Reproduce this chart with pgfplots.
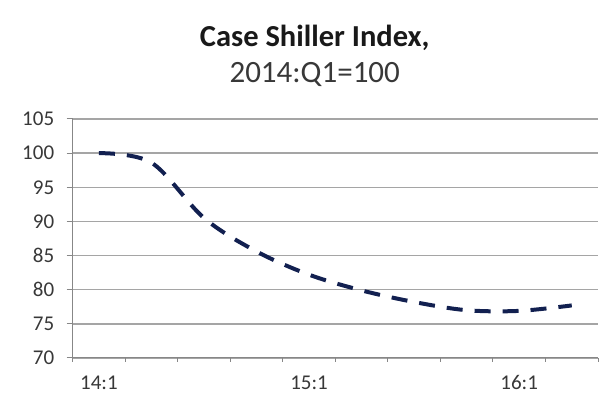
\documentclass[border=0pt]{standalone}
\usepackage{fontspec}
\setmainfont{Carlito}
\usepackage{pgfplots}
\pgfplotsset{compat=1.18}
\definecolor{navy}{RGB}{18,32,80}
\definecolor{gridgray}{RGB}{165,165,165}
\definecolor{axisgray}{RGB}{135,135,135}
\definecolor{txtgray}{RGB}{56,56,56}
\begin{document}
\begin{tikzpicture}[x=1pt,y=1pt]
\useasboundingbox (-72.7,-37) rectangle (539.3,358);
\begin{axis}[
  at={(0,0)}, anchor=south west,
  scale only axis, width=525.3pt, height=239pt,
  xmin=-0.5, xmax=9.5, ymin=70, ymax=105,
  ytick={70,75,...,105},
  xtick={0,4,8}, xticklabels={14:1,15:1,16:1},
  minor xtick={-0.5,0.5,...,9.5},
  axis x line*=bottom, axis y line*=left,
  axis line style={-, draw=axisgray, line width=1pt},
  tick align=outside,
  major tick length=6pt, minor tick length=4pt,
  major x tick style={draw=none},
  every tick/.style={axisgray, line width=1pt},
  minor tick style={axisgray, line width=1pt},
  ymajorgrids,
  major grid style={gridgray, line width=1.5pt},
  tick label style={font=\fontsize{21}{21}\selectfont, text=txtgray},
  yticklabel style={xshift=-9pt},
  xticklabel style={yshift=-8pt},
  /pgf/number format/assume math mode=true,
  clip=false,
]
\addplot[navy, line width=4pt, dash pattern=on 16pt off 12pt, smooth, tension=0.55] coordinates {
(0,100.0) (1,98.6) (2,90.5) (3,85.6) (4,82.2) (5,79.9) (6,78.2) (7,77.0) (8,76.9) (9,77.7)
};
\end{axis}
\node[anchor=base, font=\bfseries\fontsize{30.5}{30.5}\selectfont, text=black!90] at (242,311) {Case Shiller Index,};
\node[anchor=base, font=\fontsize{31}{31}\selectfont, text=txtgray] at (242,275) {2014:Q1=100};
\end{tikzpicture}
\end{document}
